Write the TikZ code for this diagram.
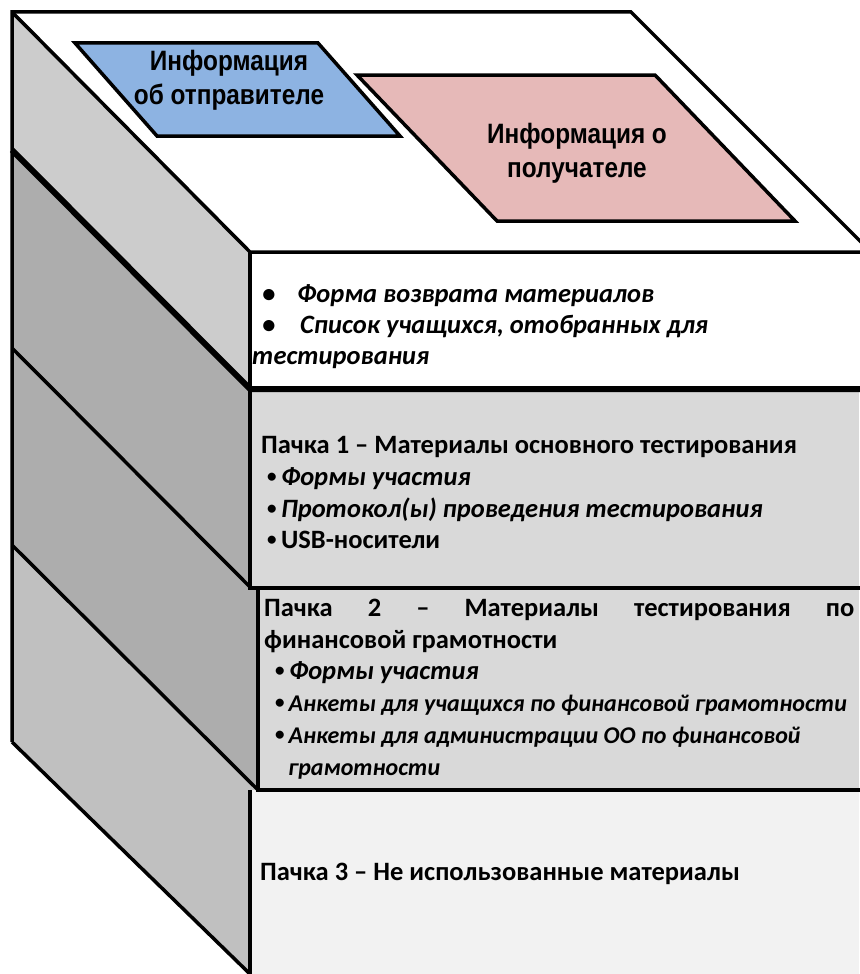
\documentclass[tikz,border=0pt]{standalone}
\usepackage{fontspec}
\setmainfont{Carlito}
\newfontfamily\hdfont[FakeStretch=0.87]{Liberation Sans}
\usepackage{tikz}

\definecolor{sendblue}{HTML}{8DB3E2}
\definecolor{recvpink}{HTML}{E6B9B8}
\definecolor{sidelight}{HTML}{CCCCCC}
\definecolor{sidedark}{HTML}{ADADAD}
\definecolor{sidemid}{HTML}{C0C0C0}
\definecolor{packgray}{HTML}{D9D9D9}
\definecolor{packlight}{HTML}{F2F2F2}

\newcommand{\dotmark}{\raisebox{2.5pt}{\fontsize{19}{19}\selectfont\upshape•}}

\tikzset{
	edge/.style={line width=3.5pt, line join=miter},
	thick edge/.style={line width=6pt},
	label/.style={align=center, inner sep=0pt, font=\hdfont\fontsize{28}{34}\selectfont\bfseries},
	line/.style={anchor=base west, inner sep=0pt, font=\fontsize{26.5}{32}\selectfont\bfseries},
	item/.style={line, font=\fontsize{26.5}{32}\selectfont\bfseries\itshape},
	small item/.style={line, font=\fontsize{24}{32}\selectfont\bfseries\itshape}
}

\begin{document}
\begin{tikzpicture}[x=1pt, y=-1pt]
	\useasboundingbox (0,0) rectangle (859,974);
	\fill[white] (0,0) rectangle (859,974);

	% side of the box
	\fill[sidelight] (12,12) -- (250,252) -- (250,389) -- (12,150) -- cycle;
	\fill[sidedark] (12,150) -- (250,389) -- (250,587) -- (12,348) -- cycle;
	\fill[sidedark] (12,348) -- (250,587) -- (258,590) -- (258,790) -- (12,545) -- cycle;
	\fill[sidemid] (12,545) -- (258,790) -- (250,790) -- (250,974) -- (12,742) -- cycle;

	% front of the box
	\fill[packgray] (250,389) rectangle (859,590);
	\fill[packgray] (258,590) rectangle (859,790);
	\fill[packlight] (250,790) rectangle (859,974);

	% outline
	\draw[edge] (12,742) -- (12,12) -- (631,12) -- (870,251);
	\draw[edge] (12,12) -- (250,252) -- (862,252);
	\draw[edge] (12,742) -- (250,974);
	\draw[edge] (250,252) -- (250,590);
	\draw[edge] (250,790) -- (250,976);
	\draw[thick edge] (12,150) -- (250,389) -- (862,389);
	\draw[edge] (12,348) -- (250,587);
	\draw[edge] (12,545) -- (258,790);
	\draw[line width=4.5pt] (250,588) -- (862,588);
	\draw[edge] (258,588) -- (258,790) -- (862,790);

	% sender and receiver
	\filldraw[edge, fill=sendblue] (75,43) -- (318,43) -- (400,136) -- (157,136) -- cycle;
	\filldraw[edge, fill=recvpink] (357,75) -- (655,75) -- (795,221) -- (497,221) -- cycle;
	\node[label] (sender) at (229,80) {Информация\\об отправителе};
	\node[label] (receiver) at (577,153) {Информация о\\получателе};

	% return forms
	\node[item] (b1) at (262,302) {•};
	\node[item] (ret) at (297,302) {Форма возврата материалов};
	\node[item] (b2) at (262,333) {•};
	\node[item] (list) at (300,333) {Список учащихся, отобранных для};
	\node[item] (list2) at (252,364) {тестирования};

	% pack 1
	\node[line] (p1) at (261,453) {Пачка 1 – Материалы основного тестирования};
	\node[item] (p1a) at (267,485) {\dotmark\,Формы участия};
	\node[item] (p1b) at (267,517) {\dotmark\,Протокол(ы) проведения тестирования};
	\node[line] (p1c) at (267,548) {\dotmark\,USB-носители};

	% pack 2
	\node[line] (p2) at (264,616) {\hbox to 590pt{Пачка\hfill 2\hfill –\hfill Материалы\hfill тестирования\hfill по}};
	\node[line] (p2b) at (264,648) {финансовой грамотности};
	\node[item] (p2c) at (275,679) {\dotmark\,Формы участия};
	\node[small item] (p2d) at (275,711) {\dotmark\,Анкеты для учащихся по финансовой грамотности};
	\node[small item] (p2e) at (275,743) {\dotmark\,Анкеты для администрации ОО по финансовой};
	\node[small item] (p2f) at (288,775) {грамотности};

	% pack 3
	\node[line] (p3) at (260,880) {Пачка 3 – Не использованные материалы};
\end{tikzpicture}
\end{document}
